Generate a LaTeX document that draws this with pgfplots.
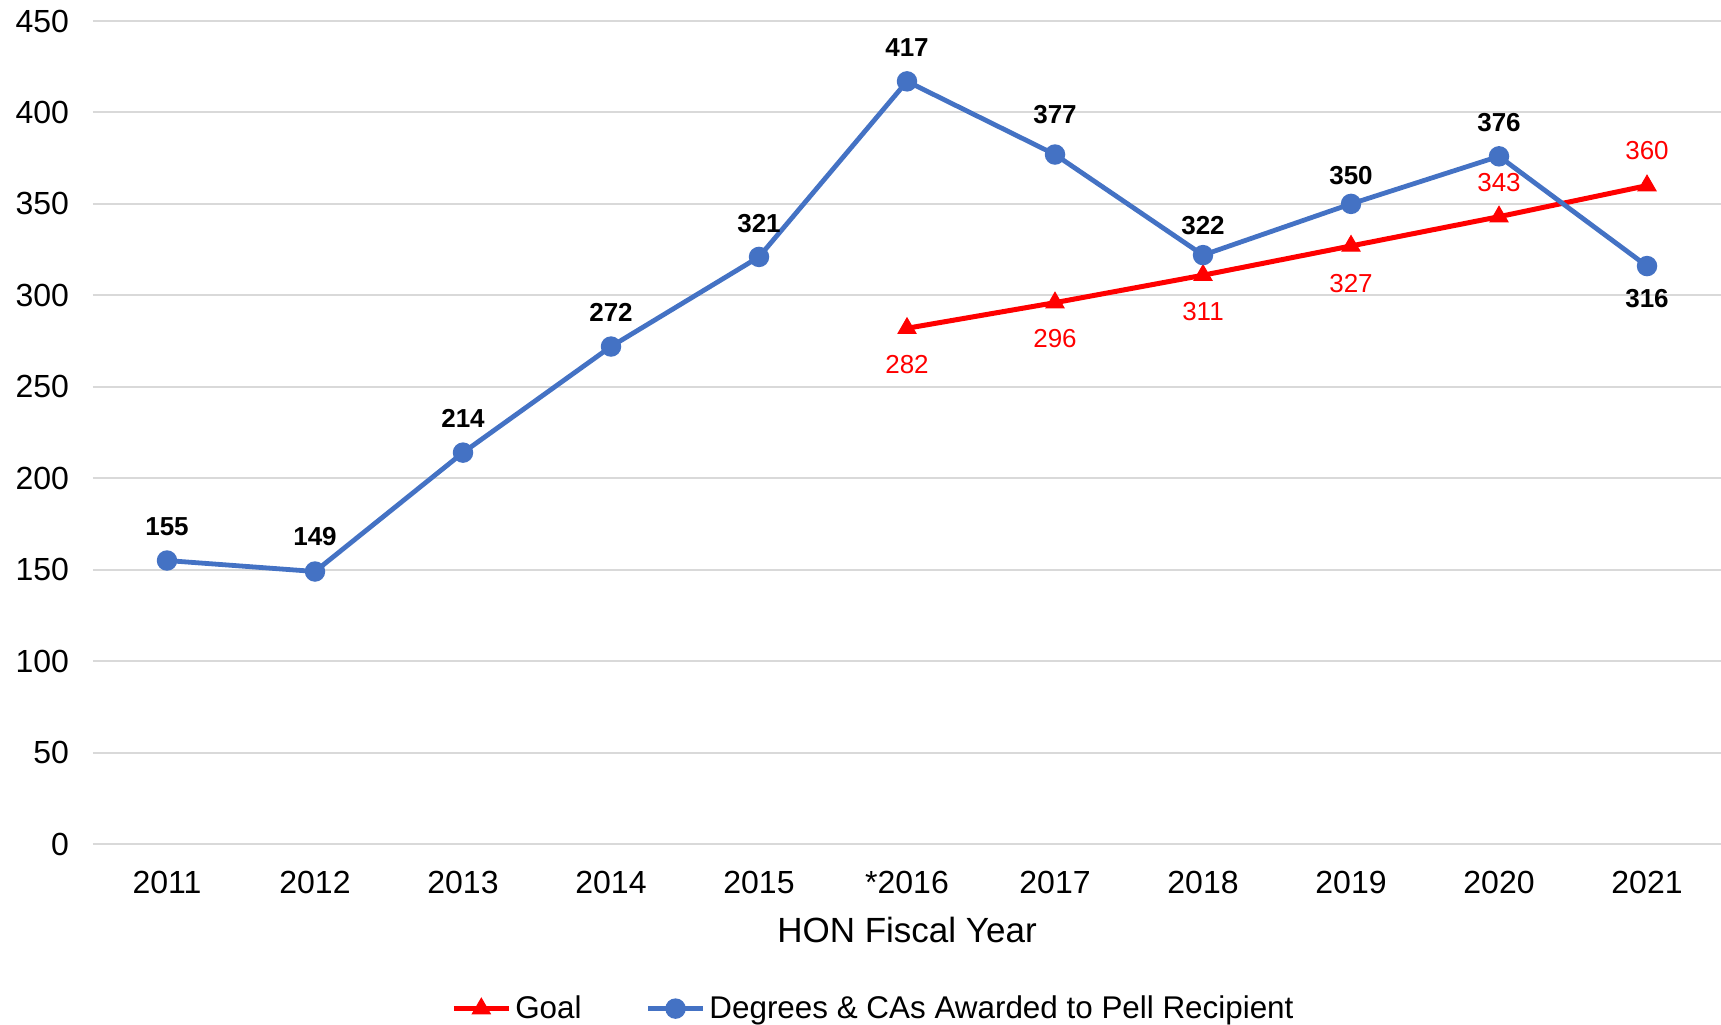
\documentclass[border=0pt]{standalone}
\usepackage{pgfplots}
\pgfplotsset{compat=1.18}
\usepackage{pgfplotstable}
\usepackage{fontspec}
\setmainfont{Liberation Sans}

\definecolor{pellblue}{HTML}{4472C4}
\definecolor{goalred}{HTML}{FF0000}
\definecolor{gridgray}{HTML}{D9D9D9}

% x: 0 = 2011 ... 10 = 2021; dy = label offset
\pgfplotstableread{
x y dy
0 155 17
1 149 17.5
2 214 17
3 272 17
4 321 16.5
5 417 17
6 377 20
7 322 15
8 350 14
9 376 17
10 316 -16
}\pell

\pgfplotstableread{
x y dy
5 282 -18
6 296 -18
7 311 -18
8 327 -19
9 343 17
10 360 17.5
}\goal

\begin{document}
\begin{tikzpicture}
\begin{axis}[
    scale only axis,
    width=814pt, height=411.5pt,
    xmin=-0.5, xmax=10.5,
    ymin=0, ymax=450,
    xtick={0,...,10},
    xticklabels={2011,2012,2013,2014,2015,*2016,2017,2018,2019,2020,2021},
    ytick={0,50,...,450},
    axis line style={draw=none},
    tick style={draw=none},
    ymajorgrids,
    grid style={gridgray, line width=1pt},
    tick label style={font=\fontsize{16}{19}\selectfont},
    /pgf/number format/assume math mode=true,
    xticklabel style={yshift=-10pt},
    yticklabel style={xshift=-8.5pt},
    xlabel={HON Fiscal Year},
    xlabel style={font=\fontsize{17.5}{21}\selectfont, yshift=-5pt},
    legend columns=2,
    legend style={draw=none, fill=none, at={(0.48,-0.2)}, anchor=center,
        font=\fontsize{15.7}{19}\selectfont,
        /tikz/every even column/.append style={column sep=30pt}},
    legend image code/.code={
        \draw[mark repeat=2,mark phase=2] plot coordinates {(0pt,0pt)(13.75pt,0pt)(27.5pt,0pt)};},
    clip=false,
]
\coordinate (bl) at (rel axis cs:0,0);
\coordinate (tr) at (rel axis cs:1,1);

\addplot[goalred, line width=2.5pt, mark=triangle*, mark size=5.2pt,
    mark options={solid, line width=0.5pt},
    visualization depends on={\thisrow{dy} \as \dy},
    nodes near coords,
    every node near coord/.append style={anchor=center, yshift=\dy pt,
        text=goalred, font=\fontsize{13}{15}\selectfont},
    ] table[x=x, y=y] {\goal};
\addlegendentry{Goal}

\addplot[pellblue, line width=2.4pt, mark=*, mark size=3.9pt,
    mark options={solid},
    visualization depends on={\thisrow{dy} \as \dy},
    nodes near coords,
    every node near coord/.append style={anchor=center, yshift=\dy pt,
        text=black, font=\fontsize{13}{15}\selectfont\bfseries},
    ] table[x=x, y=y] {\pell};
\addlegendentry{Degrees \& CAs Awarded to Pell Recipient}
\end{axis}
\pgfresetboundingbox
\path[use as bounding box] ([xshift=-46.5pt, yshift=-90pt]bl) rectangle ([yshift=10.5pt]tr);
\end{tikzpicture}
\end{document}
